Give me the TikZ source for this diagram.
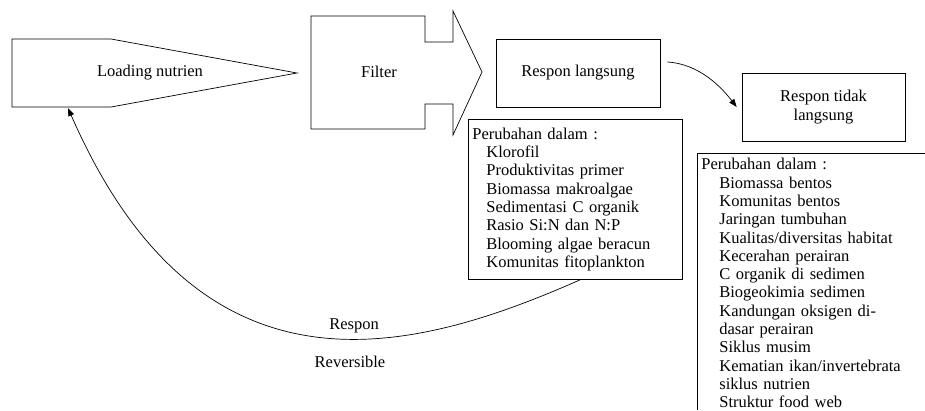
\documentclass[tikz,border=0pt]{standalone}
\usepackage{fontspec}
\setmainfont{Liberation Serif}
\usetikzlibrary{arrows.meta}
\begin{document}
\begin{tikzpicture}[x=1pt,y=-1pt,
  line width=0.7pt,
  every node/.style={font=\fontsize{16.5}{18.3}\selectfont, inner sep=0pt},
  shapeline/.style={draw=black, line join=miter},
  boxnode/.style={draw=black, inner xsep=4pt, inner ysep=0pt},
  conn/.style={draw=black, -{Triangle[length=8pt,width=6pt]}}]
\useasboundingbox (0,0) rectangle (925,410);

% Loading nutrien shape
\draw[shapeline] (12,39) -- (111,39) -- (297,73) -- (111,107) -- (12,107) -- cycle;
\node (load) at (150,73) {Loading nutrien};
\coordinate (loadbot) at (68,108);

% Filter shape
\draw[shapeline] (311,16) -- (425,16) -- (425,42) -- (453,42) -- (453,11) -- (482,72)
  -- (453,135) -- (453,104) -- (425,104) -- (425,129) -- (311,129) -- cycle;
\node (filter) at (379,72) {Filter};

% Respon boxes
\node[boxnode, minimum width=164pt, minimum height=68pt] (rl) at (578,73) {Respon langsung};
\node[boxnode, minimum width=163pt, minimum height=68pt, align=center] (rtl) at (823.5,107) {Respon tidak\\langsung};

% List box 1
\node[boxnode, anchor=north west, text width=206pt, minimum height=160pt, align=left] (p1) at (468,119) {%
Perubahan dalam :\\
\hspace*{14pt}Klorofil\\
\hspace*{14pt}Produktivitas primer\\
\hspace*{14pt}Biomassa makroalgae\\
\hspace*{14pt}Sedimentasi C organik\\
\hspace*{14pt}Rasio Si:N dan N:P\\
\hspace*{14pt}Blooming algae beracun\\
\hspace*{14pt}Komunitas fitoplankton};

% List box 2 (clipped by the picture edge)
\node[anchor=north west, text width=222pt, align=left] (p2) at (701,158) {%
Perubahan dalam :\\
\hspace*{18pt}Biomassa bentos\\
\hspace*{18pt}Komunitas bentos\\
\hspace*{18pt}Jaringan tumbuhan\\
\hspace*{18pt}Kualitas/diversitas habitat\\
\hspace*{18pt}Kecerahan perairan\\
\hspace*{18pt}C organik di sedimen\\
\hspace*{18pt}Biogeokimia sedimen\\
\hspace*{18pt}Kandungan oksigen di-\\
\hspace*{18pt}dasar perairan\\
\hspace*{18pt}Siklus musim\\
\hspace*{18pt}Kematian ikan/invertebrata\\
\hspace*{18pt}siklus nutrien\\
\hspace*{18pt}Struktur food web};
\draw[black] (925,153) -| (697,410);

% Connectors
\draw[conn] ([shift={(7,-11)}]rl.east) .. controls (700,64) and (722,88) .. ([xshift=-5pt]rtl.west);
\draw[conn] ([xshift=5pt]p1.south) .. controls (410,355) and (200,410) .. (loadbot);

% Labels
\node (resp) at (354,326) {Respon};
\node (rev) at (350,362) {Reversible};
\end{tikzpicture}
\end{document}
